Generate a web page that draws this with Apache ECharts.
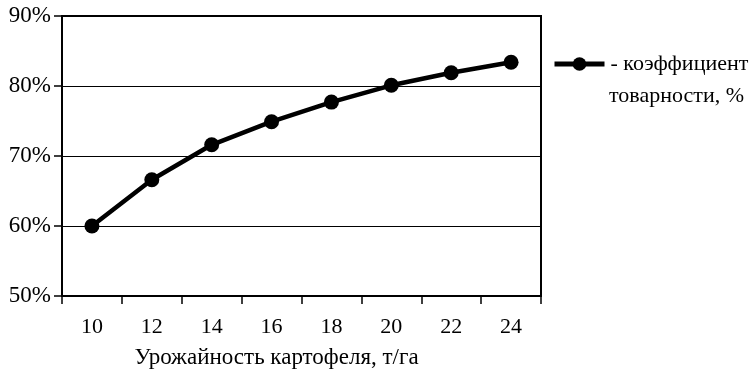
<!DOCTYPE html>
<html>
<head>
<meta charset="utf-8">
<script src="https://cdn.jsdelivr.net/npm/echarts@6/dist/echarts.min.js"></script>
<style>
html,body{margin:0;padding:0;background:#fff;}
#chart{width:755px;height:370px;}
</style>
</head>
<body>
<div id="chart"></div>
<script>
const categories = ['10', '12', '14', '16', '18', '20', '22', '24'];
const values = [60.0, 66.6, 71.6, 74.9, 77.7, 80.1, 81.9, 83.4];
const seriesName = '- коэффициент';
const legendLine2 = 'товарности, %';
const xName = 'Урожайность картофеля, т/га';

const FONT = 'Liberation Serif';
const chart = echarts.init(document.getElementById('chart'), null, {renderer: 'canvas'});
chart.setOption({
  backgroundColor: '#fff',
  animation: false,
  textStyle: {fontFamily: FONT, color: '#000'},
  grid: {left: 62, right: 214, top: 16, bottom: 74, containLabel: false, outerBoundsMode: 'none',
    show: true, borderColor: '#000', borderWidth: 2, backgroundColor: 'transparent'},
  legend: {
    left: 552, top: 53, padding: 0,
    itemWidth: 50, itemHeight: 17, itemGap: 0,
    lineStyle: {width: 5, color: '#000'},
    itemStyle: {color: '#000'},
    textStyle: {fontFamily: FONT, fontSize: 22, color: '#000', padding: [0,0,0,1]},
    data: [seriesName]
  },
  graphic: [{
    type: 'text', left: 609, top: 85,
    style: {text: legendLine2, fontFamily: FONT, fontSize: 22, fill: '#000'}
  }],
  xAxis: {
    type: 'category', data: categories, boundaryGap: true,
    axisLine: {lineStyle: {color: '#000', width: 2}},
    axisTick: {show: true, length: 8, lineStyle: {color: '#000', width: 1.5}},
    axisLabel: {fontFamily: FONT, fontSize: 22, color: '#000', margin: 20},
    name: xName, nameLocation: 'middle', nameGap: 50,
    nameTextStyle: {fontFamily: FONT, fontSize: 23, color: '#000', padding: [0, 50, 0, 0]}
  },
  yAxis: {
    type: 'value', min: 50, max: 90, interval: 10,
    axisLine: {show: true, lineStyle: {color: '#000', width: 2}},
    axisTick: {show: true, length: 8, lineStyle: {color: '#000', width: 1.5}},
    axisLabel: {fontFamily: FONT, fontSize: 23, color: '#000', margin: 11, formatter: '{value}%'},
    splitLine: {show: true, lineStyle: {color: '#000', width: 1.2}}
  },
  series: [{
    name: seriesName, type: 'line', data: values,
    symbol: 'circle', symbolSize: 15,
    itemStyle: {color: '#000'},
    lineStyle: {color: '#000', width: 4.5}
  }]
});
</script>
</body>
</html>
